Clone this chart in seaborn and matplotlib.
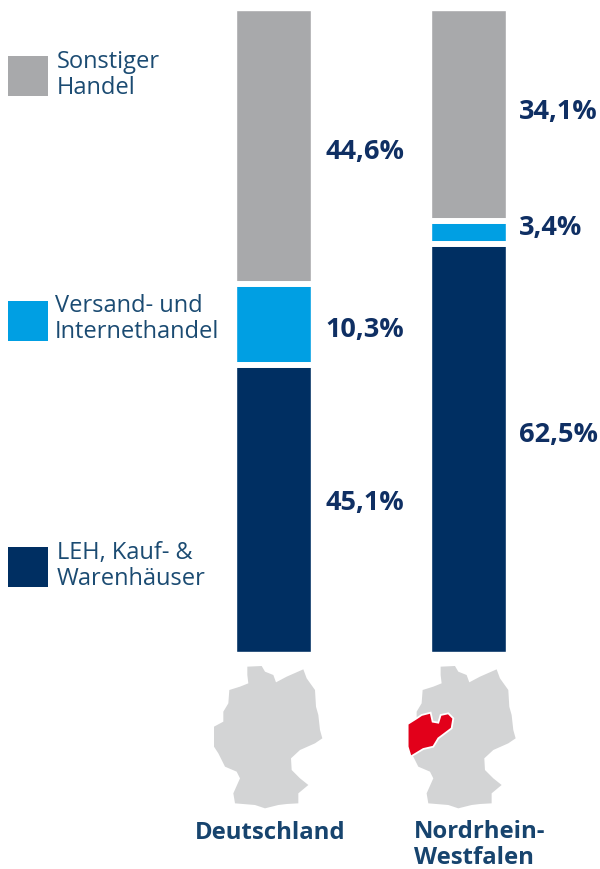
import pandas as pd
import seaborn as sns
import matplotlib.pyplot as plt
from matplotlib.patches import Polygon, Rectangle

regions = ["Deutschland", "Nordrhein-\nWestfalen"]
segments = ["LEH, Kauf- &\nWarenhäuser", "Versand- und\nInternethandel", "Sonstiger\nHandel"]
colors = ["#002F62", "#009FE3", "#A8A9AB"]

# printed shares
labelsDe = ["45,1%", "10,3%", "44,6%"]
labelsNrw = ["62,5%", "3,4%", "34,1%"]

# segment heights as drawn in the picture, not quite to scale with the printed shares
drawnDe = [44.7, 12.6, 42.7]
drawnNrw = [63.5, 3.6, 32.9]

# map outline and NRW shape
germanyX = [172, 215, 225, 250, 258, 290, 340, 350, 375, 378, 385, 390, 397, 375, 330, 303, 305, 330, 355, 325,
            325, 290, 265, 225, 195, 135, 130, 150, 140, 105, 85, 72, 72, 100, 100, 115, 118, 150, 175, 172]
germanyY = [50, 48, 65, 75, 97, 80, 58, 85, 120, 170, 195, 240, 265, 280, 300, 325, 360, 385, 405, 430,
            460, 462, 465, 475, 465, 460, 430, 385, 365, 350, 310, 290, 230, 215, 185, 160, 120, 110, 100, 75]
nrwX = [73, 100, 115, 142, 148, 165, 172, 195, 210, 205, 185, 165, 150, 120, 82, 73]
nrwY = [222, 205, 195, 188, 215, 218, 195, 190, 205, 235, 250, 265, 290, 297, 320, 290]

navy = "#0F2F63"
legendText = "#1B4B72"
titleText = "#17446E"

sns.set_theme(style="white")
plt.rcParams["font.family"] = ["Open Sans", "DejaVu Sans"]

rows = []
for region, values in zip(regions, [drawnDe, drawnNrw]):
    total = 0
    for seg, val in zip(segments, values):
        total += val
        rows.append([region, seg, total])
df = pd.DataFrame(rows, columns=["region", "segment", "top"])

fig = plt.figure(figsize=(6, 8.69), dpi=100)
ax = fig.add_axes([175.5 / 600, (869 - 652) / 869, 390 / 600, 642 / 869])

# stacked look: biggest cumulative total first, smaller ones on top
for seg, color in reversed(list(zip(segments, colors))):
    sns.barplot(data=df[df["segment"] == seg], x="region", y="top", order=regions,
                color=color, saturation=1, width=75 / 195, ax=ax)
ax.set_ylim(0, 100)
ax.set_xlim(-0.5, 1.5)
ax.axis("off")

# white gaps between the segments
for i, values in enumerate([drawnDe, drawnNrw]):
    total = 0
    for val in values[:-1]:
        total += val
        ax.hlines(total, i - 0.21, i + 0.21, color="white", lw=4.3, zorder=5)

# overlay in picture coordinates for labels, legend and maps
over = fig.add_axes([0, 0, 1, 1])
over.set_xlim(0, 600)
over.set_ylim(869, 0)
over.axis("off")
over.patch.set_alpha(0)

# share labels next to the bars, they sit off centre in the picture
for lab, y in zip(labelsDe, [503, 330, 152]):
    over.text(325, y, lab, ha="left", va="center", fontsize=19.5, fontweight="bold", color=navy)
for lab, y in zip(labelsNrw, [435, 228, 112]):
    over.text(519, y, lab, ha="left", va="center", fontsize=19.5, fontweight="bold", color=navy)

legendY = [567, 321, 76]
textY = [566, 319, 75]
textX = [57, 55, 57]
for seg, color, y, ty, tx in zip(segments, colors, legendY, textY, textX):
    over.add_patch(Rectangle((8, y - 20), 40, 40, color=color, lw=0))
    over.text(tx, ty, seg, ha="left", va="center", fontsize=17, color=legendText, linespacing=1.15)

germany = [(190 + x / 3, 650 + y / 3) for x, y in zip(germanyX, germanyY)]
over.add_patch(Polygon(germany, closed=True, color="#D3D4D5", lw=0))
germany2 = [(x + 193.3, y) for x, y in germany]
over.add_patch(Polygon(germany2, closed=True, color="#D3D4D5", lw=0))
nrw = [(190 + 193.3 + x / 3, 650 + y / 3) for x, y in zip(nrwX, nrwY)]
over.add_patch(Polygon(nrw, closed=True, facecolor="#E2001A", edgecolor="white", lw=1.3, zorder=4))

over.text(270, 833, regions[0], ha="center", va="center", fontsize=17.2, fontweight="bold", color=titleText)
over.text(414, 845, regions[1], ha="left", va="center", fontsize=17.2, fontweight="bold", color=titleText,
          linespacing=1.1)

plt.savefig("out.png", dpi=100)
plt.close()
